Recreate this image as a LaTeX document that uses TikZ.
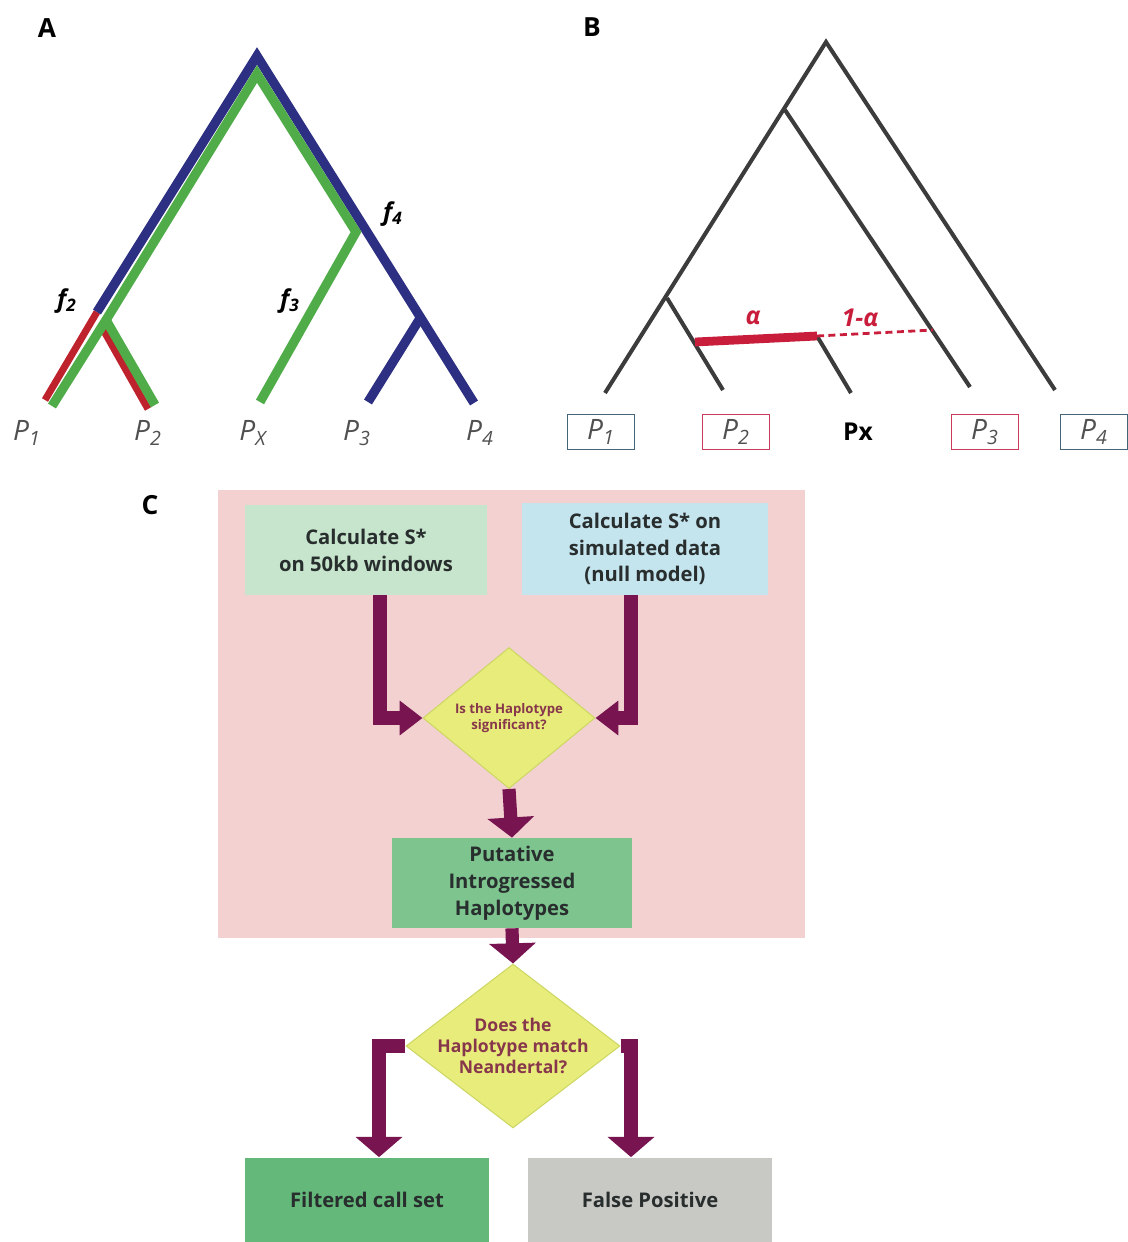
\documentclass[tikz,border=0pt]{standalone}
\usepackage{fontspec}
\setmainfont{Open Sans}
\usetikzlibrary{arrows.meta,shapes.geometric}

\definecolor{treeblue}{RGB}{45,48,130}
\definecolor{treegreen}{RGB}{80,172,72}
\definecolor{treered}{RGB}{190,35,45}
\definecolor{treegrey}{RGB}{60,60,60}
\definecolor{mixred}{RGB}{200,30,60}
\definecolor{labgrey}{RGB}{80,80,80}
\definecolor{boxslate}{RGB}{70,100,120}
\definecolor{boxrose}{RGB}{200,60,90}
\definecolor{pinkbg}{RGB}{243,209,209}
\definecolor{calcfill}{RGB}{199,229,205}
\definecolor{simfill}{RGB}{196,228,238}
\definecolor{putfill}{RGB}{125,196,143}
\definecolor{filtfill}{RGB}{100,184,122}
\definecolor{fpfill}{RGB}{200,200,196}
\definecolor{askfill}{RGB}{232,236,122}
\definecolor{askdraw}{RGB}{205,215,100}
\definecolor{asktext}{RGB}{135,55,75}
\definecolor{boxtext}{RGB}{40,45,45}
\definecolor{arrowplum}{RGB}{120,20,80}

\tikzset{
  panel/.style={font=\fontsize{15}{17}\selectfont\bfseries},
  tiplab/.style={text=labgrey,font=\fontsize{16}{18}\selectfont\itshape},
  flab/.style={font=\fontsize{14}{16}\selectfont\bfseries\itshape},
  mixlab/.style={text=mixred,font=\fontsize{14}{16}\selectfont\bfseries\itshape},
  popbox/.style={draw,line width=1pt,minimum width=1.34cm,minimum height=0.7cm,
    inner sep=0pt,text=labgrey,font=\fontsize{16}{18}\selectfont\itshape},
  stepbox/.style={rectangle,minimum height=1.8cm,inner sep=2pt,align=center,
    text=boxtext,font=\fontsize{11.5}{15.3}\selectfont\bfseries},
  ask/.style={diamond,fill=askfill,draw=askdraw,line width=0.6pt,inner sep=0pt},
  asklab/.style={align=center,text=asktext,font=\fontsize{7.5}{9.6}\selectfont\bfseries},
  flow/.style={draw=arrowplum,line width=7.5pt,-{Triangle[width=26pt,length=11.5pt]}},
  sideflow/.style={flow,-{Triangle[width=19pt,length=13pt]}},
}

\begin{document}
\begin{tikzpicture}[x=0.02cm,y=-0.02cm]
  \useasboundingbox (0,0) rectangle (1127,1242);

  \node[panel] (labA) at (47,28)  {A};
  \node[panel] (labB) at (592,27) {B};
  \node[panel] (labC) at (150,505) {C};

  \coordinate (Arb)  at (257,56);
  \coordinate (Arg)  at (257,74);
  \coordinate (Af2b) at (97,312);
  \coordinate (Af2g) at (106,320);
  \coordinate (Af4g) at (356,232);
  \coordinate (Ap3j) at (419,320);
  \coordinate (Ap1r) at (45,400);
  \coordinate (Ap1g) at (52,406);
  \coordinate (Ap2s) at (100,324);
  \coordinate (Ap2r) at (148,409);
  \coordinate (Ap2g) at (155,405);
  \coordinate (Apx)  at (260,402);
  \coordinate (Ap3)  at (368,402);
  \coordinate (Ap4)  at (474,403);

  \draw[treered,line width=4pt]   (Af2b) -- (Ap1r);
  \draw[treered,line width=4pt]   (Ap2s) -- (Ap2r);
  \draw[treeblue,line width=5.3pt]  (Af2b) -- (Arb) -- (Ap4);
  \draw[treeblue,line width=5.3pt]  (Ap3j) -- (Ap3);
  \draw[treegreen,line width=5.3pt] (Ap1g) -- (Af2g) -- (Arg) -- (Af4g) -- (Apx);
  \draw[treegreen,line width=5.3pt] (Af2g) -- (Ap2g);

  \node[flab] (f2) at (67,301)  {f\textsubscript{2}};
  \node[flab] (f3) at (290,301) {f\textsubscript{3}};
  \node[flab] (f4) at (393,214) {f\textsubscript{4}};

  \node[tiplab] (A1) at (27,433)  {P\textsubscript{1}};
  \node[tiplab] (A2) at (148,433) {P\textsubscript{2}};
  \node[tiplab] (Ax) at (253,433) {P\textsubscript{X}};
  \node[tiplab] (A3) at (357,433) {P\textsubscript{3}};
  \node[tiplab] (A4) at (480,433) {P\textsubscript{4}};

  \coordinate (Bro) at (826,42);
  \coordinate (Bj1) at (785,110);
  \coordinate (Bj2) at (667,298);
  \coordinate (Bjx) at (817,336);
  \coordinate (Bm2) at (695,342);
  \coordinate (Bm3) at (933,330);
  \coordinate (Bt1) at (605,393);
  \coordinate (Bt2) at (723,390);
  \coordinate (Btx) at (851,393);
  \coordinate (Bt3) at (970,387);
  \coordinate (Bt4) at (1055,390);

  \draw[treegrey,line width=2.3pt] (Bt1) -- (Bro) -- (Bt4);
  \draw[treegrey,line width=2.3pt] (Bj1) -- (Bt3);
  \draw[treegrey,line width=2.3pt] (Bj2) -- (Bt2);
  \draw[treegrey,line width=2.3pt] (Bjx) -- (Btx);
  \draw[mixred,line width=5pt] (Bm2) -- (Bjx);
  \draw[mixred,line width=1.6pt,dash pattern=on 4pt off 2.5pt] (Bjx) -- (Bm3);

  \node[mixlab] (alpha) at (753,318) {α};
  \node[mixlab] (oneminus) at (860,318) {1-α};

  \node[popbox,draw=boxslate] (B1) at (601,432)  {P\textsubscript{1}};
  \node[popbox,draw=boxrose]  (B2) at (736,432)  {P\textsubscript{2}};
  \node[font=\fontsize{14}{16}\selectfont\bfseries] (Bx) at (858,432) {Px};
  \node[popbox,draw=boxrose]  (B3) at (985,432)  {P\textsubscript{3}};
  \node[popbox,draw=boxslate] (B4) at (1094,432) {P\textsubscript{4}};

  \fill[pinkbg] (218,490) rectangle (805,938);

  \node[stepbox,fill=calcfill,minimum width=4.84cm] (calc) at (366,550)
    {Calculate S*\\on 50kb windows};
  \node[stepbox,fill=simfill,minimum width=4.94cm,minimum height=1.84cm] (sim) at (645,549)
    {Calculate S* on\\simulated data\\(null model)};
  \node[ask,minimum width=3.44cm,minimum height=2.82cm,
    label={[asklab]center:{Is the Haplotype\\significant?}}] (sig) at (509,718) {};
  \node[stepbox,fill=putfill,minimum width=4.82cm] (put) at (512,883)
    {Putative\\Introgressed\\Haplotypes};
  \node[ask,minimum width=4.28cm,minimum height=3.28cm,
    label={[asklab,font=\fontsize{10}{12}\selectfont\bfseries]center:{Does the\\Haplotype match\\Neandertal?}}] (mat) at (513,1046) {};
  \node[stepbox,fill=filtfill,minimum width=4.88cm,minimum height=1.7cm] (filt) at (367,1200)
    {Filtered call set};
  \node[stepbox,fill=fpfill,minimum width=4.9cm,minimum height=1.7cm] (fp) at (650,1200)
    {False Positive};

  \draw[sideflow] ([xshift=0.28cm]calc.south) |- (sig.west);
  \draw[sideflow] ([xshift=-0.28cm]sim.south) |- (sig.east);
  \draw[flow] (sig.south) -- (put.north);
  \draw[flow] (put.south) -- (mat.north);
  \draw[flow] (mat.west) -| ([xshift=0.24cm]filt.north);
  \draw[flow] (mat.east) -| ([xshift=-0.38cm]fp.north);
\end{tikzpicture}
\end{document}
